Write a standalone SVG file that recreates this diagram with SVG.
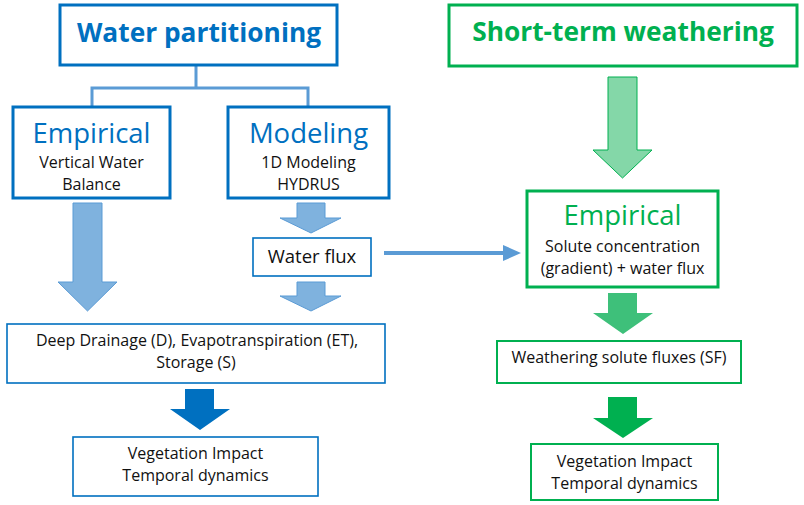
<svg xmlns="http://www.w3.org/2000/svg" width="804" height="505" viewBox="0 0 804 505">
<style>
text{font-family:"Open Sans","Noto Sans",sans-serif;text-anchor:middle;fill:#111}
.bb{fill:#fff;stroke:#0070C0;stroke-width:3}
.bt{fill:#fff;stroke:#0070C0;stroke-width:1.6}
.gb{fill:#fff;stroke:#00B050;stroke-width:3}
.gt{fill:#fff;stroke:#00B050;stroke-width:2}
.h{font-size:26.3px;font-weight:bold}
.s{font-size:27.5px}
.t{font-size:16px}
.la{fill:#7FB2DE;stroke:#5B9BD5;stroke-width:1}
</style>
<g id="connectors">
<path d="M196 65V88M92 107V88H308V107" fill="none" stroke="#5B9BD5" stroke-width="3"/>
<path class="la" d="M73 203H102V282H117L87.5 311L58 282H73Z"/>
<path class="la" d="M297 203H325V218H341L311 233L280 218H297Z"/>
<path class="la" d="M297 282H325V296H341L311 311L280 296H297Z"/>
<path d="M185 389H214V409H230L200 430L170 409H185Z" fill="#0070C0"/>
<path d="M384 251H503V245L521 253L503 261V255H384Z" fill="#5B9BD5"/>
<path d="M608 77H637V150H652L622.5 178L593 150H608Z" fill="#84D7A8" stroke="#00B050" stroke-width="1"/>
<path d="M608 293H637V313H653L623 334L593 313H608Z" fill="#3EC07A"/>
<path d="M608 397H637V418H653L623 438L593 418H608Z" fill="#00B050"/>
</g>
<g id="water-partitioning">
<rect class="bb" x="60" y="5" width="277" height="60"/>
<text class="h" x="199" y="42" style="fill:#0070C0">Water partitioning</text>
</g>
<g id="empirical-left">
<rect class="bb" x="13" y="107" width="157" height="91"/>
<text class="s" x="91.5" y="143" style="fill:#0070C0">Empirical</text>
<text class="t" x="91.5" y="168">Vertical Water</text>
<text class="t" x="91.5" y="190">Balance</text>
</g>
<g id="modeling">
<rect class="bb" x="228" y="107" width="161" height="91"/>
<text class="s" x="308.5" y="143" style="fill:#0070C0">Modeling</text>
<text class="t" x="308.5" y="168">1D Modeling</text>
<text class="t" x="308.5" y="190">HYDRUS</text>
</g>
<g id="water-flux">
<rect class="bt" x="253" y="238" width="118" height="38"/>
<text x="312" y="263" style="font-size:18.5px">Water flux</text>
</g>
<g id="deep-drainage">
<rect class="bt" x="7" y="324" width="378" height="59"/>
<text class="t" x="197" y="346">Deep Drainage (D), Evapotranspiration (ET),</text>
<text class="t" x="196" y="368">Storage (S)</text>
</g>
<g id="vegetation-left">
<rect class="bt" x="73" y="437" width="245" height="59"/>
<text class="t" x="195.5" y="459">Vegetation Impact</text>
<text class="t" x="195.5" y="481">Temporal dynamics</text>
</g>
<g id="short-term-weathering">
<rect class="gb" x="449" y="5" width="348" height="61"/>
<text class="h" x="623" y="41" style="fill:#00B050">Short-term weathering</text>
</g>
<g id="empirical-right">
<rect class="gb" x="527" y="191" width="191" height="96"/>
<text class="s" x="622.5" y="225" style="fill:#00B050">Empirical</text>
<text class="t" x="622.5" y="252">Solute concentration</text>
<text class="t" x="622.5" y="274">(gradient) + water flux</text>
</g>
<g id="weathering-fluxes">
<rect class="gt" x="497" y="341" width="244" height="42"/>
<text class="t" x="619" y="363">Weathering solute fluxes (SF)</text>
</g>
<g id="vegetation-right">
<rect class="gt" x="531" y="444" width="187" height="56"/>
<text class="t" x="624.5" y="467">Vegetation Impact</text>
<text class="t" x="624.5" y="489">Temporal dynamics</text>
</g>
</svg>
